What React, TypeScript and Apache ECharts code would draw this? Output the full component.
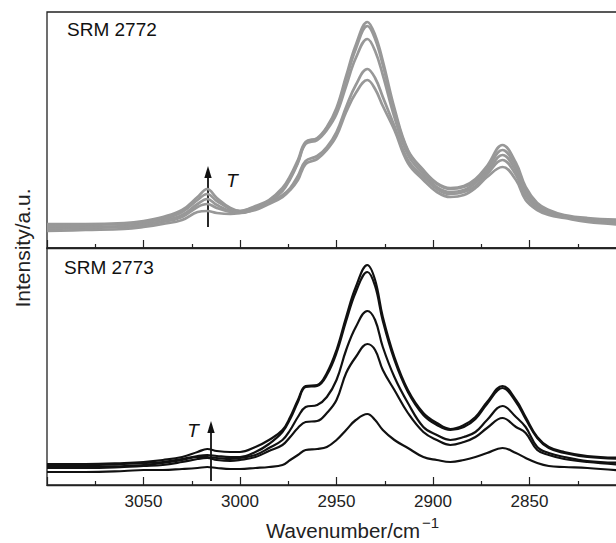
import React, { useEffect, useRef } from "react";
import * as echarts from "echarts";

// Wavenumber grid (cm^-1)
const wavenumbers = [3100, 3080, 3060, 3050, 3040, 3030, 3022, 3017, 3012, 3005, 3000, 2992, 2985, 2978, 2974, 2970, 2966, 2960, 2955, 2950, 2945, 2940, 2934, 2930, 2926, 2920, 2913, 2905, 2898, 2891, 2884, 2878, 2872, 2864, 2857, 2852, 2846, 2840, 2832, 2820, 2800];

// SRM 2772 (grey), arbitrary intensity units
const srm2772_a = [24, 24, 25, 27, 31, 38, 51, 59, 50, 40, 37, 42, 48, 60, 72, 88, 106, 110, 121, 140, 172, 203, 226, 213, 187, 140, 98, 78, 65, 60, 62, 69, 82, 103, 85, 61, 45, 38, 33, 30, 28];
const srm2772_b = [22, 23, 24, 26, 29, 36, 48, 54, 47, 39, 37, 41, 47, 58, 70, 86, 105, 109, 120, 138, 169, 199, 222, 209, 183, 137, 97, 77, 64, 59, 61, 67, 79, 98, 81, 58, 43, 37, 32, 29, 27];
const srm2772_c = [21, 21, 22, 24, 27, 33, 44, 49, 43, 37, 36, 40, 46, 57, 69, 85, 104, 108, 118, 134, 162, 190, 209, 197, 173, 131, 93, 74, 61, 56, 58, 65, 76, 93, 77, 55, 41, 36, 31, 28, 26];
const srm2772_d = [19, 20, 21, 23, 26, 31, 41, 44, 40, 36, 35, 39, 45, 53, 60, 72, 87, 92, 101, 116, 141, 163, 179, 170, 151, 122, 88, 71, 59, 54, 56, 62, 74, 88, 73, 52, 40, 35, 31, 27, 24];
const srm2772_e = [17, 18, 19, 21, 24, 28, 36, 37, 35, 34, 35, 38, 44, 51, 58, 68, 84, 89, 98, 112, 136, 155, 168, 159, 142, 118, 85, 68, 56, 51, 53, 60, 71, 81, 68, 48, 38, 33, 30, 26, 23];

// SRM 2773 (black)
const srm2773_a = [21, 21, 22, 23, 25, 28, 33, 36, 34, 33, 33, 38, 45, 55, 68, 85, 99, 100, 112, 135, 168, 198, 220, 205, 168, 128, 95, 72, 62, 56, 60, 68, 83, 99, 85, 68, 48, 38, 33, 29, 27];
const srm2773_b = [20, 20, 21, 22, 23, 26, 29, 30, 29, 28, 28, 33, 41, 53, 66, 83, 98, 99, 110, 132, 164, 193, 213, 199, 164, 125, 93, 70, 60, 55, 58, 66, 81, 97, 83, 66, 47, 37, 32, 28, 26];
const srm2773_c = [18, 18, 19, 20, 22, 25, 28, 28, 27, 26, 27, 30, 37, 45, 55, 68, 78, 80, 88, 105, 135, 158, 174, 165, 138, 108, 82, 58, 50, 45, 48, 53, 65, 79, 68, 58, 38, 32, 28, 24, 22];
const srm2773_d = [17, 17, 18, 19, 20, 23, 26, 27, 25, 24, 25, 28, 34, 40, 48, 57, 63, 64, 72, 85, 112, 128, 141, 135, 115, 95, 72, 53, 45, 40, 43, 48, 57, 67, 58, 52, 35, 30, 26, 23, 20];
const srm2773_e = [13, 13, 14, 15, 15, 16, 17, 18, 17, 16, 16, 17, 18, 20, 25, 30, 35, 36, 38, 45, 55, 65, 71, 65, 55, 45, 37, 28, 25, 23, 25, 28, 32, 37, 32, 27, 22, 19, 18, 17, 14];

const topCurves = [srm2772_a, srm2772_b, srm2772_c, srm2772_d, srm2772_e];
const bottomCurves = [srm2773_a, srm2773_b, srm2773_c, srm2773_d, srm2773_e];

const FONT = '"Liberation Sans", Arial, Helvetica, sans-serif';
const AX = "#222";

function xAxisDef(gridIndex: number, showLabels: boolean) {
  return {
    type: "value",
    gridIndex,
    min: 2800,
    max: 3100,
    interval: 50,
    inverse: true,
    axisLine: { show: true, onZero: false, lineStyle: { color: AX, width: 1.3 } },
    axisTick: { show: true, inside: true, length: 8, lineStyle: { color: AX, width: 1.2 } },
    minorTick: { show: true, splitNumber: 2, length: 4, lineStyle: { color: AX, width: 1.2 } },
    splitLine: { show: false },
    minorSplitLine: { show: false },
    axisLabel: {
      show: showLabels,
      fontSize: 17,
      color: AX,
      margin: 8,
      fontFamily: FONT,
      showMinLabel: false,
      showMaxLabel: false,
      formatter: (v: number) => String(v),
    },
  };
}

function yAxisDef(gridIndex: number, max: number) {
  return {
    type: "value",
    gridIndex,
    min: 0,
    max,
    axisLine: { show: false },
    axisTick: { show: false },
    axisLabel: { show: false },
    splitLine: { show: false },
  };
}

function mkSeries(arr: number[], idx: number, color: string, width: number) {
  return {
    type: "line",
    xAxisIndex: idx,
    yAxisIndex: idx,
    data: wavenumbers.map((w, i) => [w, arr[i]]),
    showSymbol: false,
    symbol: "none",
    smooth: 0.4,
    silent: true,
    lineStyle: { color, width },
  };
}

export default function App() {
  const ref = useRef<HTMLDivElement>(null);
  useEffect(() => {
    const chart = echarts.init(ref.current!, null, { renderer: "svg" });
    const option = {
      animation: false,
      backgroundColor: "#fff",
      grid: [
        { left: 47, right: 14, top: 12, height: 236, show: true, borderColor: AX, borderWidth: 1.3, backgroundColor: "transparent" },
        { left: 47, right: 14, top: 248, height: 237, show: true, borderColor: AX, borderWidth: 1.3, backgroundColor: "transparent" },
      ],
      xAxis: [xAxisDef(0, false), xAxisDef(1, true)],
      yAxis: [yAxisDef(0, 236), yAxisDef(1, 237)],
      series: [
        ...topCurves.map((c) => mkSeries(c, 0, "#989898", 2.7)),
        ...bottomCurves.map((c) => mkSeries(c, 1, "#111", 2.2)),
      ],
      graphic: [
        { type: "text", x: 67, y: 29, style: { text: "SRM 2772", fontSize: 19, fontFamily: FONT, fill: "#111", align: "left", verticalAlign: "middle" } },
        { type: "text", x: 64, y: 267, style: { text: "SRM 2773", fontSize: 19, fontFamily: FONT, fill: "#111", align: "left", verticalAlign: "middle" } },
        // top arrow
        { type: "line", shape: { x1: 208, y1: 227, x2: 208, y2: 175 }, style: { stroke: "#111", lineWidth: 1.8 } },
        { type: "polygon", shape: { points: [[208, 166], [204.3, 178], [211.7, 178]] }, style: { fill: "#111" } },
        { type: "text", x: 232, y: 180, style: { text: "T", fontSize: 19, fontStyle: "italic", fontFamily: FONT, fill: "#111", align: "center", verticalAlign: "middle" } },
        // bottom arrow
        { type: "line", shape: { x1: 211, y1: 481, x2: 211, y2: 430 }, style: { stroke: "#111", lineWidth: 1.8 } },
        { type: "polygon", shape: { points: [[211, 421], [207.3, 433], [214.7, 433]] }, style: { fill: "#111" } },
        { type: "text", x: 193, y: 430, style: { text: "T", fontSize: 19, fontStyle: "italic", fontFamily: FONT, fill: "#111", align: "center", verticalAlign: "middle" } },
        // axis titles
        { type: "text", x: 266, y: 530, style: { text: "Wavenumber/cm", fontSize: 20.5, fontFamily: FONT, fill: "#222", align: "left", verticalAlign: "middle" } },
        { type: "text", x: 422, y: 522, style: { text: "\u22121", fontSize: 15, fontFamily: FONT, fill: "#222", align: "left", verticalAlign: "middle" } },
        { type: "text", x: 22, y: 248, rotation: Math.PI / 2, style: { text: "Intensity/a.u.", fontSize: 21, fontFamily: FONT, fill: "#222", align: "center", verticalAlign: "middle" } },
      ],
    };
    chart.setOption(option as any);
    return () => chart.dispose();
  }, []);
  return (
    <div style={{ position: "absolute", left: 0, top: 0, width: 616, height: 543, overflow: "hidden", background: "#fff" }}>
      <div ref={ref} style={{ width: 640, height: 543 }} />
    </div>
  );
}
